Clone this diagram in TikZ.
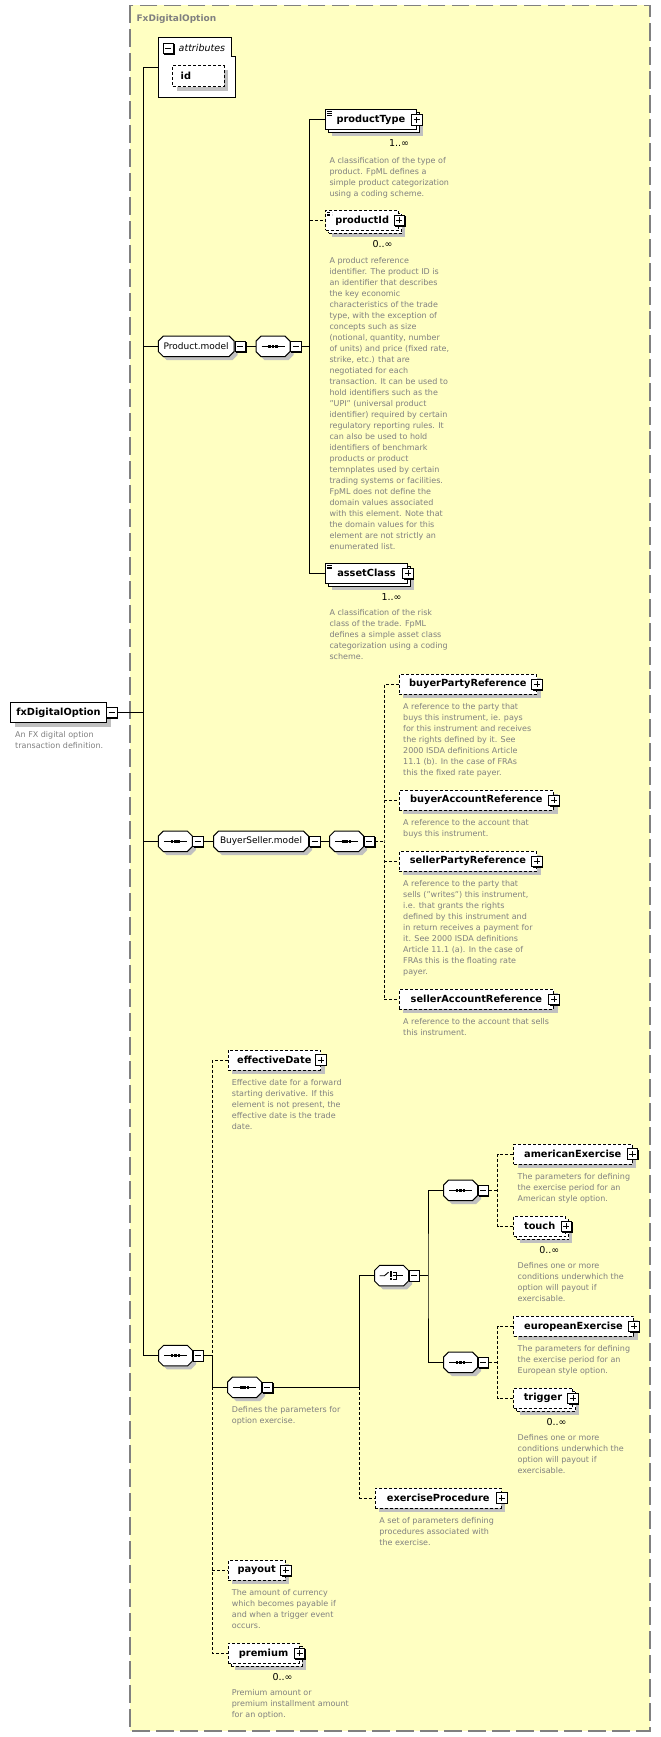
\documentclass[tikz,border=0pt]{standalone}
\usepackage{fontspec}
\setmainfont{DejaVu Sans}
\usepackage{tikz}
\usetikzlibrary{shadows,positioning}
\definecolor{bgyellow}{RGB}{255,255,194}
\definecolor{framegray}{RGB}{128,128,128}
\definecolor{descgray}{RGB}{128,128,128}
\definecolor{shadowgray}{RGB}{192,192,192}
\newcommand{\elemfont}{\bfseries\fontsize{9.8}{12}\selectfont}
\newcommand{\modelfont}{\fontsize{9}{11}\selectfont}
\newcommand{\descfont}{\fontsize{8}{11}\selectfont}
\newcommand{\multfont}{\fontsize{9.5}{11}\selectfont}
% octagon box for compositors and group references
\def\octcut{5pt}
\makeatletter
\pgfdeclareshape{octbox}{%
	\inheritsavedanchors[from=rectangle]%
	\inheritanchorborder[from=rectangle]%
	\inheritanchor[from=rectangle]{center}%
	\inheritanchor[from=rectangle]{west}%
	\inheritanchor[from=rectangle]{east}%
	\inheritanchor[from=rectangle]{north}%
	\inheritanchor[from=rectangle]{south}%
	\backgroundpath{%
		\pgf@process{\southwest}\edef\octxa{\the\pgf@x}\edef\octya{\the\pgf@y}%
		\pgf@process{\northeast}\edef\octxb{\the\pgf@x}\edef\octyb{\the\pgf@y}%
		\pgfpathmoveto{\pgfpoint{\octxa+\octcut}{\octya}}%
		\pgfpathlineto{\pgfpoint{\octxb-\octcut}{\octya}}%
		\pgfpathlineto{\pgfpoint{\octxb}{\octya+\octcut}}%
		\pgfpathlineto{\pgfpoint{\octxb}{\octyb-\octcut}}%
		\pgfpathlineto{\pgfpoint{\octxb-\octcut}{\octyb}}%
		\pgfpathlineto{\pgfpoint{\octxa+\octcut}{\octyb}}%
		\pgfpathlineto{\pgfpoint{\octxa}{\octyb-\octcut}}%
		\pgfpathlineto{\pgfpoint{\octxa}{\octya+\octcut}}%
		\pgfpathclose
	}%
}
\makeatother
\tikzset{%
	boxshadow/.style  = {drop shadow={shadow xshift=4pt, shadow yshift=-4pt, fill=shadowgray, opacity=1}},
	stackshadow/.style= {drop shadow={shadow xshift=6.5pt, shadow yshift=-6.5pt, fill=shadowgray, opacity=1}, copy shadow={shadow xshift=3pt, shadow yshift=-3pt, draw=black, fill=white}},
	elem/.style       = {draw, fill=white, line width=1pt, minimum height=20pt, inner sep=0pt, anchor=west, font=\elemfont},
	optional/.style   = {dash pattern=on 3pt off 2pt},
	oneelem/.style    = {elem, boxshadow},
	manyelem/.style   = {elem, stackshadow},
	typed/.style      = {path picture={\draw[line width=0.6pt] ([xshift=1.5pt,yshift=-2pt]path picture bounding box.north west) -- ++(5pt,0pt) ++(-5pt,-1.7pt) -- ++(5pt,0pt) ++(-5pt,-1.7pt) -- ++(5pt,0pt);}},
	btn/.style        = {draw, fill=white, line width=0.9pt, minimum size=10.5pt, inner sep=0pt, drop shadow={shadow xshift=1pt, shadow yshift=-1pt, fill=black, opacity=1}},
	plusbox/.style    = {btn, path picture={\draw[line width=0.9pt] ([yshift=-2.2pt]path picture bounding box.north) -- ([yshift=2.2pt]path picture bounding box.south) ([xshift=2.2pt]path picture bounding box.west) -- ([xshift=-2.2pt]path picture bounding box.east);}},
	minusbox/.style   = {btn, path picture={\draw[line width=0.9pt] ([xshift=2.2pt]path picture bounding box.west) -- ([xshift=-2.2pt]path picture bounding box.east);}},
	compositor/.style = {octbox, draw, fill=white, line width=1pt, minimum width=34pt, minimum height=20.5pt, inner sep=0pt, outer sep=0pt, anchor=west, drop shadow={shadow xshift=3.5pt, shadow yshift=-3.5pt, fill=shadowgray, opacity=1}},
	seqnode/.style    = {compositor, path picture={
			\coordinate (pc) at (path picture bounding box.center);
			\draw[line width=1pt] ([xshift=-11.5pt]pc) -- ([xshift=11.5pt]pc);
			\foreach \dx in {-3.4,0,3.4} \fill[black] ([xshift=\dx pt]pc) +(-1.3pt,-1.3pt) rectangle +(1.3pt,1.3pt);}},
	choicenode/.style = {compositor, path picture={
			\coordinate (pc) at (path picture bounding box.center);
			\draw[line width=0.9pt] ([xshift=-12pt]pc) -- ([xshift=-7pt]pc) -- ([xshift=-3pt,yshift=3.5pt]pc);
			\foreach \dy in {-3.4,0,3.4} \fill[black] ([xshift=-0.5pt,yshift=\dy pt]pc) +(-1.3pt,-1.3pt) rectangle +(1.3pt,1.3pt);
			\draw[line width=0.9pt] ([xshift=1.5pt,yshift=3.4pt]pc) -- ++(3pt,0pt) -- ++(0pt,-6.8pt) -- ++(-3pt,0pt) ([xshift=1.5pt]pc) -- ++(9.5pt,0pt);}},
	groupref/.style   = {compositor, font=\modelfont},
	desc/.style       = {anchor=north west, inner sep=0pt, align=left, text=descgray, font=\descfont},
	mult/.style       = {inner sep=0pt, font=\multfont},
	link/.style       = {line width=1pt},
}
\begin{document}
\begin{tikzpicture}[x=1pt,y=-1pt]
	\useasboundingbox (0,0) rectangle (661,1737);
	\fill[white] (0,0) rectangle (661,1737);
	% complex type frame
	\draw[framegray, line width=1.2pt, dash pattern=on 17.5pt off 6.5pt, fill=bgyellow] (130,5.3) rectangle (650,1731);
	\node[anchor=west, inner sep=0pt, text=framegray, font=\bfseries\fontsize{9}{11}\selectfont] (title) at (136.4,19) {FxDigitalOption};

	% root element
	\node[oneelem, minimum width=96pt] (fx) at (10,712.5) {fxDigitalOption};
	\node[minusbox, anchor=west] (fx-m) at ([xshift=-1pt]fx.east) {};
	\node[desc] (fx-d) at (15,731.6) {An FX digital option\\transaction definition.};
	\coordinate (f0) at (143.3,712.5);

	% attributes
	\node[minimum width=76.7pt, minimum height=59.3pt, inner sep=0pt, anchor=north west] (attr) at (158.3,38) {};
	\draw[line width=1pt, fill=white] (attr.north west) -- ([xshift=-4.3pt]attr.north east) -- ([xshift=-4.3pt,yshift=-19pt]attr.north east) -- ([yshift=-19pt]attr.north east) -- (attr.south east) -- (attr.south west) -- cycle;
	\node[minusbox] (attr-m) at (168.4,48.5) {};
	\node[anchor=west, inner sep=0pt, font=\itshape\fontsize{9.5}{11}\selectfont] (attr-t) at (178.5,48.3) {attributes};
	\node[oneelem, optional, minimum width=51.4pt, minimum height=20.7pt, text width=35.4pt, inner xsep=8pt, align=left] (id) at (172.2,76.3) {id};

	% Product.model
	\node[groupref, minimum width=75.8pt] (pm) at (158.3,346.3) {Product.model};
	\node[minusbox, anchor=west] (pm-m) at ([xshift=0.5pt]pm.east) {};
	\node[seqnode] (pms) at (256,346.3) {};
	\node[minusbox, anchor=west] (pms-m) at (pms.east) {};
	\coordinate (f2) at (309.9,346.3);

	\node[manyelem, typed, minimum width=90.7pt] (pt) at (325,119.7) {productType};
	\node[plusbox] (pt-p) at (pt.east) {};
	\node[mult] (pt-n) at (399,143.5) {1..∞};
	\node[desc] (pt-d) at (329.3,156.8) {A classification of the type of\\product. FpML defines a\\simple product categorization\\using a coding scheme.};

	\node[manyelem, optional, typed, minimum width=73.3pt] (pid) at (325,220.3) {productId};
	\node[plusbox] (pid-p) at (pid.east) {};
	\node[mult] (pid-n) at (382.5,244) {0..∞};
	\node[desc] (pid-d) at (329.3,256.8) {A product reference\\identifier. The product ID is\\an identifier that describes\\the key economic\\characteristics of the trade\\type, with the exception of\\concepts such as size\\(notional, quantity, number\\of units) and price (fixed rate,\\strike, etc.) that are\\negotiated for each\\transaction. It can be used to\\hold identifiers such as the\\"UPI" (universal product\\identifier) required by certain\\regulatory reporting rules. It\\can also be used to hold\\identifiers of benchmark\\products or product\\temnplates used by certain\\trading systems or facilities.\\FpML does not define the\\domain values associated\\with this element. Note that\\the domain values for this\\element are not strictly an\\enumerated list.};

	\node[manyelem, typed, minimum width=82pt] (ac) at (325,573.3) {assetClass};
	\node[plusbox] (ac-p) at (ac.east) {};
	\node[mult] (ac-n) at (391.5,597) {1..∞};
	\node[desc] (ac-d) at (329.3,609.5) {A classification of the risk\\class of the trade. FpML\\defines a simple asset class\\categorization using a coding\\scheme.};

	% BuyerSeller.model
	\node[seqnode] (bs1) at (158.3,841.3) {};
	\node[minusbox, anchor=west] (bs1-m) at (bs1.east) {};
	\node[groupref, minimum width=95pt] (bsm) at (213.5,841.3) {BuyerSeller.model};
	\node[minusbox, anchor=west] (bsm-m) at ([xshift=0.5pt]bsm.east) {};
	\node[seqnode] (bs2) at (329.7,841.3) {};
	\node[minusbox, anchor=west] (bs2-m) at (bs2.east) {};
	\coordinate (f3) at (384,841.3);

	\node[oneelem, optional, minimum width=137.3pt] (bpr) at (398.7,684.3) {buyerPartyReference};
	\node[plusbox] (bpr-p) at (bpr.east) {};
	\node[desc] (bpr-d) at (403,703.5) {A reference to the party that\\buys this instrument, ie. pays\\for this instrument and receives\\the rights defined by it. See\\2000 ISDA definitions Article\\11.1 (b). In the case of FRAs\\this the fixed rate payer.};

	\node[oneelem, optional, minimum width=154.3pt] (bar) at (398.7,800.3) {buyerAccountReference};
	\node[plusbox] (bar-p) at (bar.east) {};
	\node[desc] (bar-d) at (403,819.5) {A reference to the account that\\buys this instrument.};

	\node[oneelem, optional, minimum width=137.3pt] (spr) at (398.7,861.3) {sellerPartyReference};
	\node[plusbox] (spr-p) at (spr.east) {};
	\node[desc] (spr-d) at (403,880.5) {A reference to the party that\\sells ("writes") this instrument,\\i.e. that grants the rights\\defined by this instrument and\\in return receives a payment for\\it. See 2000 ISDA definitions\\Article 11.1 (a). In the case of\\FRAs this is the floating rate\\payer.};

	\node[oneelem, optional, minimum width=154.3pt] (sar) at (398.7,999.3) {sellerAccountReference};
	\node[plusbox] (sar-p) at (sar.east) {};
	\node[desc] (sar-d) at (403,1018.5) {A reference to the account that sells\\this instrument.};

	% option sequence
	\node[seqnode] (s4) at (158.5,1355.7) {};
	\node[minusbox, anchor=west] (s4-m) at (s4.east) {};
	\coordinate (f4) at (212.4,1355.7);

	\node[oneelem, optional, minimum width=92.4pt] (ed) at (227.6,1060) {effectiveDate};
	\node[plusbox] (ed-p) at (ed.east) {};
	\node[desc] (ed-d) at (231.7,1079.1) {Effective date for a forward\\starting derivative. If this\\element is not present, the\\effective date is the trade\\date.};

	\node[seqnode] (s5) at (227.6,1387.3) {};
	\node[minusbox, anchor=west] (s5-m) at (s5.east) {};
	\node[desc] (s5-d) at (231.7,1406.5) {Defines the parameters for\\option exercise.};
	\coordinate (f5) at (359.5,1387.3);

	\node[choicenode] (ch) at (374.5,1275.7) {};
	\node[minusbox, anchor=west] (ch-m) at (ch.east) {};
	\coordinate (f6) at (428,1275.7);

	\node[seqnode] (sa) at (443.5,1190.3) {};
	\node[minusbox, anchor=west] (sa-m) at (sa.east) {};
	\coordinate (f7) at (497.5,1190.3);

	\node[oneelem, optional, minimum width=118.5pt] (ae) at (513,1154) {americanExercise};
	\node[plusbox] (ae-p) at (ae.east) {};
	\node[desc] (ae-d) at (517.5,1173.5) {The parameters for defining\\the exercise period for an\\American style option.};

	\node[manyelem, optional, minimum width=52.3pt] (to) at (513,1226.3) {touch};
	\node[plusbox] (to-p) at (to.east) {};
	\node[mult] (to-n) at (549.4,1250) {0..∞};
	\node[desc] (to-d) at (517.5,1262.5) {Defines one or more\\conditions underwhich the\\option will payout if\\exercisable.};

	\node[seqnode] (se) at (443.5,1362.3) {};
	\node[minusbox, anchor=west] (se-m) at (se.east) {};
	\coordinate (f8) at (497.5,1362.3);

	\node[oneelem, optional, minimum width=120pt] (ee) at (513,1326.3) {europeanExercise};
	\node[plusbox] (ee-p) at (ee.east) {};
	\node[desc] (ee-d) at (517.5,1345.5) {The parameters for defining\\the exercise period for an\\European style option.};

	\node[manyelem, optional, minimum width=59pt] (tr) at (513,1398.3) {trigger};
	\node[plusbox] (tr-p) at (tr.east) {};
	\node[mult] (tr-n) at (556.5,1421.7) {0..∞};
	\node[desc] (tr-d) at (517.5,1434.5) {Defines one or more\\conditions underwhich the\\option will payout if\\exercisable.};

	\node[oneelem, optional, minimum width=126.1pt] (ep) at (374.7,1498) {exerciseProcedure};
	\node[plusbox] (ep-p) at (ep.east) {};
	\node[desc] (ep-d) at (379.2,1517.1) {A set of parameters defining\\procedures associated with\\the exercise.};

	\node[oneelem, optional, minimum width=57.3pt] (po) at (227.6,1570.3) {payout};
	\node[plusbox] (po-p) at (po.east) {};
	\node[desc] (po-d) at (231.7,1589.1) {The amount of currency\\which becomes payable if\\and when a trigger event\\occurs.};

	\node[manyelem, optional, minimum width=71pt] (pr) at (227.6,1653.3) {premium};
	\node[plusbox] (pr-p) at (pr.east) {};
	\node[mult] (pr-n) at (282.5,1676.7) {0..∞};
	\node[desc] (pr-d) at (231.7,1689.5) {Premium amount or\\premium installment amount\\for an option.};

	% connectors
	\draw[link] (fx-m.east) -- (f0);
	\draw[link] (attr.west) -| (f0) |- (s4.west);
	\draw[link] (f0 |- pm.west) -- (pm.west);
	\draw[link] (f0 |- bs1.west) -- (bs1.west);

	\draw[link] (pm-m.east) -- (pms.west);
	\draw[link] (pms-m.east) -- (f2);
	\draw[link] (pt.west) -| (f2) |- (ac.west);
	\draw[link, optional] (f2 |- pid.west) -- (pid.west);

	\draw[link] (bs1-m.east) -- (bsm.west);
	\draw[link] (bsm-m.east) -- (bs2.west);
	\draw[link, optional] (bs2-m.east) -- (f3);
	\draw[link, optional] (bpr.west) -| (f3) |- (sar.west);
	\draw[link, optional] (f3 |- bar.west) -- (bar.west);
	\draw[link, optional] (f3 |- spr.west) -- (spr.west);

	\draw[link] (s4-m.east) -- (f4);
	\draw[link, optional] (ed.west) -| (f4);
	\draw[link] (f4) |- (s5.west);
	\draw[link, optional] (s5.west -| f4) |- (pr.west);
	\draw[link, optional] (f4 |- po.west) -- (po.west);

	\draw[link] (s5-m.east) -- (f5) |- (ch.west);
	\draw[link, optional] (f5) |- (ep.west);
	\draw[link] (ch-m.east) -- (f6);
	\draw[link] (sa.west) -| (f6) |- (se.west);
	\draw[link, optional] (sa-m.east) -- (f7);
	\draw[link, optional] (ae.west) -| (f7) |- (to.west);
	\draw[link, optional] (se-m.east) -- (f8);
	\draw[link, optional] (ee.west) -| (f8) |- (tr.west);
\end{tikzpicture}
\end{document}
